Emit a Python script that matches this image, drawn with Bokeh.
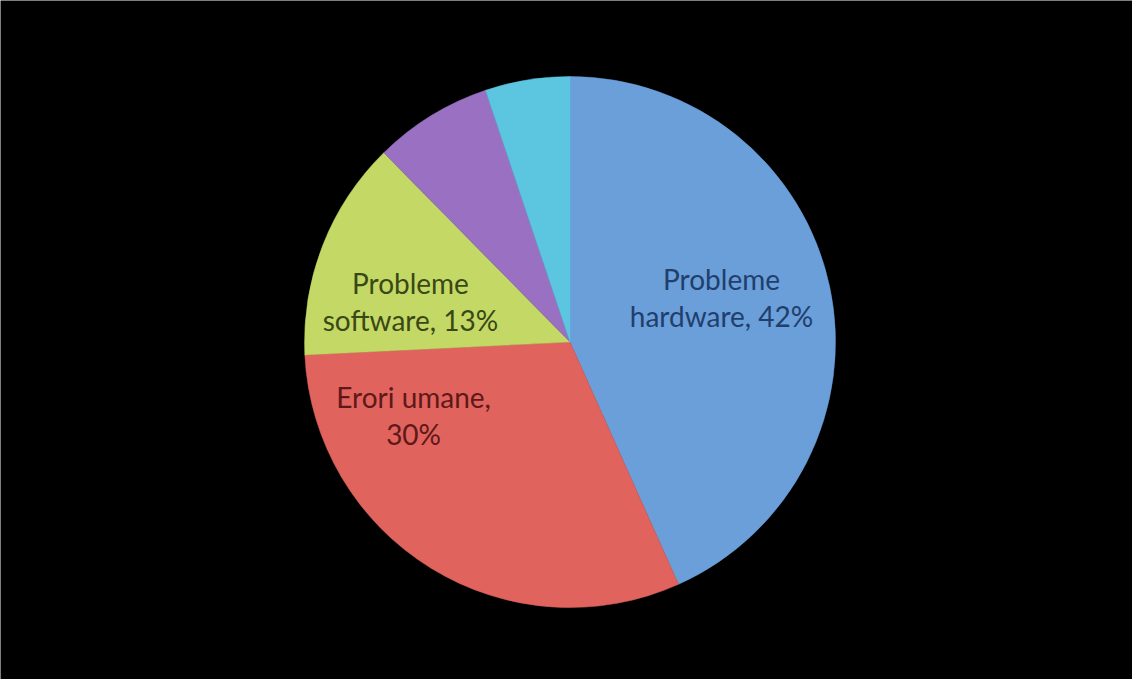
import math
from bokeh.plotting import figure
from bokeh.models import Range1d, ColumnDataSource
from bokeh.core.properties import value
from bokeh.embed import file_html
from bokeh.resources import INLINE

# ---- data ----
categories = ["Probleme hardware", "Erori umane", "Probleme software", "Viruși", "Dezastre naturale"]
values = [42, 30, 13, 7, 5]
show_label = [True, True, True, False, False]
label_break = ["Probleme\nhardware", "Erori umane,", "Probleme\nsoftware", "", ""]

# ---- style ----
colors = ["#6A9FDA", "#E0635E", "#C3D865", "#9A70C2", "#5CC5E0"]
text_colors = ["#213E6C", "#5E1818", "#3A4816", "#3A2A50", "#1A4A5A"]
# label placement in polar form (fraction of radius, degrees clockwise from top)
label_polar = [(0.595, 73.6), (0.651, 244.8), (0.62, 284.25), (0.6, 0), (0.6, 0)]

W, H = 1132, 679
R = 265.5
cx_px, cy_px = 569.5, 341.5  # centre of pie measured from plot's top-left

p = figure(width=W, height=H, output_backend="svg", toolbar_location=None,
           x_range=Range1d(-cx_px, W - cx_px), y_range=Range1d(-(H - cy_px), cy_px),
           min_border=0, background_fill_color="black", border_fill_color="black",
           outline_line_color=None)
p.axis.visible = False
p.grid.visible = False

total = sum(values)
starts, ends = [], []
cum = 0.0
for v in values:
    a0 = math.pi / 2 - 2 * math.pi * cum / total
    cum += v
    a1 = math.pi / 2 - 2 * math.pi * cum / total
    starts.append(a0)
    ends.append(a1)

src = ColumnDataSource(dict(start=starts, end=ends, color=colors, cat=categories, val=values))
p.wedge(x=0, y=0, radius=R, start_angle="start", end_angle="end", direction="clock",
        fill_color="color", line_color="color", line_width=0.5, source=src)

lx, ly, lt, lc = [], [], [], []
for i, cat in enumerate(categories):
    if not show_label[i]:
        continue
    frac, deg = label_polar[i]
    ang = math.radians(deg)
    lx.append(frac * R * math.sin(ang))
    ly.append(frac * R * math.cos(ang))
    if "\n" in label_break[i]:
        lt.append(f"{label_break[i]}, {values[i]}%")
    else:
        lt.append(f"{label_break[i]}\n{values[i]}%")
    lc.append(text_colors[i])

lsrc = ColumnDataSource(dict(x=lx, y=ly, t=lt, c=lc))
p.text(x="x", y="y", text="t", text_color="c", source=lsrc, text_align="center",
       text_baseline="middle", text_font=value("Lato"), text_font_size="28px",
       text_line_height=1.1)

open("out.html", "w").write(file_html(p, INLINE))
